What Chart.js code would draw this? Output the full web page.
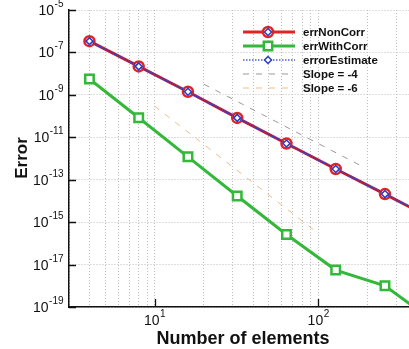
<!DOCTYPE html>
<html>
<head>
<meta charset="utf-8">
<script src="https://cdn.jsdelivr.net/npm/chart.js@4"></script>
<style>
  html, body { margin: 0; padding: 0; background: #fff; }
  #wrap { width: 409px; height: 349px; position: relative; }
</style>
</head>
<body>
<div id="wrap"><canvas id="errChart"></canvas></div>
<script>
// mesh sizes and measured errors
const elements = [4, 8, 16, 32, 64, 128, 256, 512];
const errNonCorr = [3.4e-7, 2.2e-8, 1.4e-9, 8.2e-11, 5.1e-12, 3.2e-13, 2.1e-14, 1.3e-15];
const errWithCorr = [5.6e-9, 8.3e-11, 1.2e-12, 1.7e-14, 2.6e-16, 5.5e-18, 1.0e-18, 2.0e-20];
const errorEstimate = [3.4e-7, 2.2e-8, 1.4e-9, 8.2e-11, 5.1e-12, 3.2e-13, 2.1e-14, 1.3e-15];

// reference slopes
const slope4X = [20, 190];
const slope4Y = [3.2e-9, 3.9e-13];
const slope6X = [10, 95];
const slope6Y = [2.95e-10, 4.0e-16];

// axis ticks
const xGridTicks = [3, 4, 5, 6, 7, 8, 9, 10, 20, 30, 40, 50, 60, 70, 80, 90, 100, 200, 300];
const xLabelPowers = [1, 2];
const yLabelPowers = [-5, -7, -9, -11, -13, -15, -17, -19];

const FONT = '"Liberation Sans", Arial, Helvetica, sans-serif';
const RED = '#e02424';
const GREEN = '#33b83a';
const BLUE = '#2a3cc4';

function pts(xs, ys) {
  return xs.map((x, i) => ({ x: x, y: ys[i] }));
}

const legendItems = [
  { text: 'errNonCorr', color: RED, width: 3, dash: [], marker: 'circle' },
  { text: 'errWithCorr', color: GREEN, width: 3, dash: [], marker: 'rect' },
  { text: 'errorEstimate', color: '#7a86d8', width: 2, dash: [1.5, 1.5], marker: 'rectRot' },
  { text: 'Slope = -4', color: '#999', width: 1, dash: [6, 7], marker: null },
  { text: 'Slope = -6', color: '#efbd85', width: 1, dash: [6, 7], marker: null }
];

function drawMarker(ctx, type, x, y) {
  ctx.save();
  ctx.setLineDash([]);
  ctx.fillStyle = '#fff';
  if (type === 'circle') {
    ctx.strokeStyle = RED; ctx.lineWidth = 2.5;
    ctx.beginPath(); ctx.arc(x, y, 5, 0, Math.PI * 2); ctx.fill(); ctx.stroke();
    ctx.strokeStyle = BLUE; ctx.lineWidth = 1.5;
    ctx.beginPath(); ctx.moveTo(x, y - 3.5); ctx.lineTo(x + 3.5, y); ctx.lineTo(x, y + 3.5); ctx.lineTo(x - 3.5, y); ctx.closePath(); ctx.stroke();
  } else if (type === 'rect') {
    ctx.strokeStyle = GREEN; ctx.lineWidth = 2.5;
    ctx.beginPath(); ctx.rect(x - 4.2, y - 4.2, 8.4, 8.4); ctx.fill(); ctx.stroke();
  } else if (type === 'rectRot') {
    ctx.strokeStyle = BLUE; ctx.lineWidth = 1.5;
    ctx.beginPath(); ctx.moveTo(x, y - 3.5); ctx.lineTo(x + 3.5, y); ctx.lineTo(x, y + 3.5); ctx.lineTo(x - 3.5, y); ctx.closePath(); ctx.fill(); ctx.stroke();
  }
  ctx.restore();
}

// power-of-ten label: "10" plus raised exponent
function powerLabel(ctx, p, x, y, align) {
  const base = '10', exp = String(p);
  ctx.font = '14px ' + FONT;
  const wb = ctx.measureText(base).width;
  ctx.font = '10px ' + FONT;
  const we = ctx.measureText(exp).width;
  let left = align === 'right' ? x - wb - we : x - (wb + we) / 2;
  ctx.font = '14px ' + FONT;
  ctx.fillText(base, left, y);
  ctx.font = '10px ' + FONT;
  ctx.fillText(exp, left + wb + 0.5, y - 8);
}

const decor = {
  id: 'decor',
  afterDraw(chart) {
    const { ctx, chartArea: a, scales: { x, y } } = chart;
    ctx.save();
    ctx.strokeStyle = '#111';
    ctx.lineWidth = 1.3;
    ctx.beginPath();
    yLabelPowers.forEach(p => {
      const py = Math.round(y.getPixelForValue(Math.pow(10, p))) + 0.5;
      ctx.moveTo(a.left, py); ctx.lineTo(a.left + 7, py);
    });
    xLabelPowers.forEach(p => {
      const px = Math.round(x.getPixelForValue(Math.pow(10, p))) + 0.5;
      ctx.moveTo(px, a.bottom); ctx.lineTo(px, a.bottom - 8);
    });
    ctx.stroke();

    ctx.fillStyle = '#111';
    ctx.textBaseline = 'alphabetic';
    ctx.textAlign = 'left';
    yLabelPowers.forEach(p => {
      powerLabel(ctx, p, 63, y.getPixelForValue(Math.pow(10, p)) + 5, 'right');
    });
    xLabelPowers.forEach(p => {
      powerLabel(ctx, p, x.getPixelForValue(Math.pow(10, p)), 325, 'center');
    });

    // axis titles
    ctx.font = 'bold 18px ' + FONT;
    ctx.textAlign = 'center';
    ctx.fillText('Number of elements', 243, 344);
    ctx.save();
    ctx.translate(27, 158);
    ctx.rotate(-Math.PI / 2);
    ctx.font = 'bold 17px ' + FONT;
    ctx.fillText('Error', 0, 0);
    ctx.restore();

    // legend
    legendItems.forEach((it, i) => {
      const ly = 32 + i * 14;
      ctx.save();
      ctx.strokeStyle = it.color;
      ctx.lineWidth = it.width;
      ctx.setLineDash(it.dash);
      ctx.beginPath(); ctx.moveTo(243, ly); ctx.lineTo(295, ly); ctx.stroke();
      ctx.restore();
      if (it.marker) drawMarker(ctx, it.marker, 268, ly);
      ctx.fillStyle = '#111';
      ctx.font = 'bold 11.5px ' + FONT;
      ctx.textAlign = 'left';
      ctx.fillText(it.text, 303, ly + 4);
    });
    ctx.restore();
  }
};

const gridStyle = { color: '#bdbdbd', lineWidth: 1, drawTicks: false };
const borderStyle = { color: '#111', width: 1.5, dash: [1, 2] };

new Chart(document.getElementById('errChart'), {
  type: 'line',
  data: {
    datasets: [
      {
        label: 'errorEstimate', data: pts(elements, errorEstimate), order: 0,
        borderColor: BLUE, borderWidth: 2, borderDash: [1, 1],
        pointStyle: 'rectRot', pointRadius: 3.5, pointBorderWidth: 1.5,
        pointBorderColor: BLUE, pointBackgroundColor: '#fff'
      },
      {
        label: 'errNonCorr', data: pts(elements, errNonCorr), order: 1,
        borderColor: '#c8203a', borderWidth: 3,
        pointStyle: 'circle', pointRadius: 5, pointBorderWidth: 2.5,
        pointBorderColor: RED, pointBackgroundColor: '#fff'
      },
      {
        label: 'errWithCorr', data: pts(elements, errWithCorr), order: 2,
        borderColor: GREEN, borderWidth: 3,
        pointStyle: 'rect', pointRadius: 6, pointBorderWidth: 2.5,
        pointBorderColor: GREEN, pointBackgroundColor: '#fff'
      },
      {
        label: 'Slope = -4', data: pts(slope4X, slope4Y), order: 3,
        borderColor: '#999', borderWidth: 1, borderDash: [6, 7], pointRadius: 0
      },
      {
        label: 'Slope = -6', data: pts(slope6X, slope6Y), order: 3,
        borderColor: '#efbd85', borderWidth: 1, borderDash: [6, 7], pointRadius: 0
      }
    ]
  },
  options: {
    responsive: true,
    maintainAspectRatio: false,
    animation: false,
    layout: { autoPadding: false, padding: { left: 69, top: 10, right: 0, bottom: 42 } },
    plugins: { legend: { display: false }, tooltip: { enabled: false } },
    scales: {
      x: {
        type: 'logarithmic', min: 3, max: 359,
        afterBuildTicks: s => { s.ticks = xGridTicks.map(v => ({ value: v })); },
        ticks: { display: false },
        grid: gridStyle,
        border: borderStyle
      },
      y: {
        type: 'logarithmic', min: 1e-19, max: 1e-5,
        afterBuildTicks: s => { s.ticks = yLabelPowers.map(p => ({ value: Math.pow(10, p) })); },
        ticks: { display: false },
        grid: gridStyle,
        border: borderStyle
      }
    }
  },
  plugins: [decor]
});
</script>
</body>
</html>
